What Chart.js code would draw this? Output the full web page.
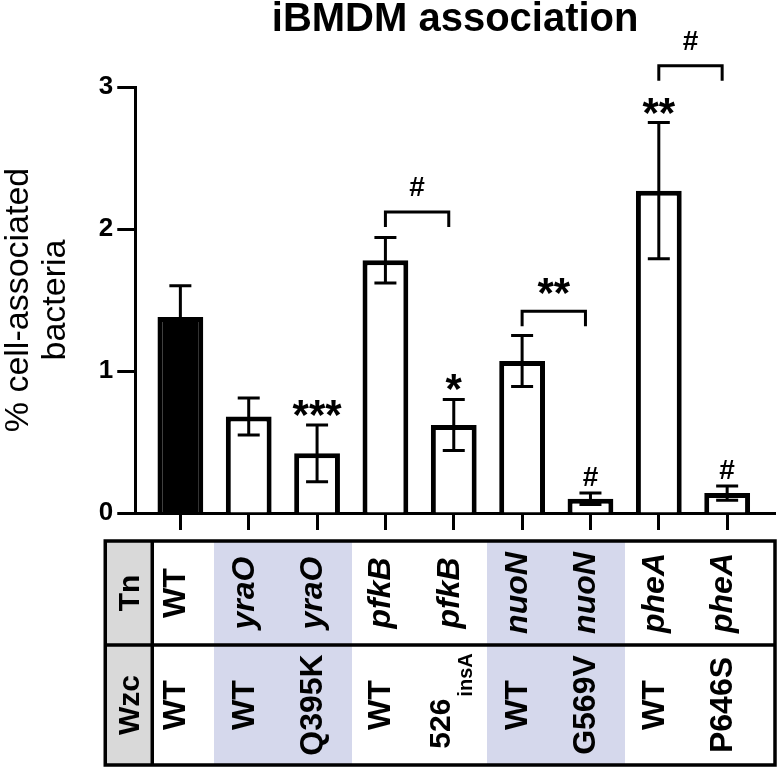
<!DOCTYPE html>
<html>
<head>
<meta charset="utf-8">
<script src="https://cdn.jsdelivr.net/npm/chart.js@4"></script>
<style>
  html, body { margin: 0; padding: 0; background: #fff; }
  #wrap { width: 779px; height: 768px; }
</style>
</head>
<body>
<div id="wrap"><canvas id="assocChart"></canvas></div>
<script>
// strains (Tn insertion / Wzc allele)
const strains = ['WT', 'yraO', 'yraO Q395K', 'pfkB', 'pfkB 526insA', 'nuoN', 'nuoN G569V', 'pheA', 'pheA P646S'];
const tnLabels = ['WT', 'yraO', 'yraO', 'pfkB', 'pfkB', 'nuoN', 'nuoN', 'pheA', 'pheA'];
const wzcLabels = ['WT', 'WT', 'Q395K', 'WT', '526', 'WT', 'G569V', 'WT', 'P646S'];
const wzcSubscripts = ['', '', '', '', 'insA', '', '', '', ''];

// % cell-associated bacteria, mean and error
const meanValues = [1.38, 0.68, 0.42, 1.78, 0.62, 1.07, 0.10, 2.27, 0.14];
const errValues = [0.22, 0.13, 0.20, 0.16, 0.18, 0.18, 0.04, 0.48, 0.05];
const yTicks = [0, 1, 2, 3];

// significance marks
const starLabels = ['', '', '***', '', '*', '', '#', '**', '#'];
const bracketFrom = [3, 5, 7];
const bracketTo = [4, 6, 8];
const bracketLevel = [2.12, 1.42, 3.15];
const bracketLabels = ['#', '**', '#'];

const shadedCols = [1, 2, 5, 6];

const FONT = '"Liberation Sans", Arial, Helvetica, sans-serif';

// draws text so its ink is centred on (x, y)
function inkText(ctx, text, x, y) {
  const m = ctx.measureText(text);
  ctx.textAlign = 'center';
  ctx.textBaseline = 'alphabetic';
  ctx.fillText(text, x, y + (m.actualBoundingBoxAscent - m.actualBoundingBoxDescent) / 2);
}

const extras = {
  id: 'extras',
  afterDatasetsDraw(chart) {
    const { ctx } = chart;
    const xs = chart.scales.x, ys = chart.scales.y;
    ctx.save();
    ctx.strokeStyle = '#000';
    ctx.fillStyle = '#000';
    ctx.lineWidth = 3;
    // error bars
    meanValues.forEach((v, i) => {
      const x = xs.getPixelForValue(i);
      const t = ys.getPixelForValue(v + errValues[i]);
      const b = ys.getPixelForValue(v - errValues[i]);
      ctx.beginPath();
      ctx.moveTo(x, t); ctx.lineTo(x, b);
      ctx.moveTo(x - 11, t); ctx.lineTo(x + 11, t);
      ctx.moveTo(x - 11, b); ctx.lineTo(x + 11, b);
      ctx.stroke();
    });
    // stars / hashes above bars
    starLabels.forEach((s, i) => {
      if (!s) return;
      const x = xs.getPixelForValue(i);
      const t = ys.getPixelForValue(meanValues[i] + errValues[i]);
      ctx.font = s === '#' ? 'bold 28px ' + FONT : 'bold 42px ' + FONT;
      inkText(ctx, s, x, t - 17);
    });
    // brackets
    bracketFrom.forEach((f, k) => {
      const x1 = xs.getPixelForValue(f);
      const x2 = xs.getPixelForValue(bracketTo[k]) - 5;
      const y = ys.getPixelForValue(bracketLevel[k]);
      ctx.beginPath();
      ctx.moveTo(x1, y + 15); ctx.lineTo(x1, y); ctx.lineTo(x2, y); ctx.lineTo(x2, y + 15);
      ctx.stroke();
      const s = bracketLabels[k];
      ctx.font = s === '#' ? 'bold 28px ' + FONT : 'bold 42px ' + FONT;
      inkText(ctx, s, (x1 + x2) / 2, y - 25);
    });
    ctx.restore();
  },
  afterDraw(chart) {
    const { ctx, chartArea } = chart;
    const xs = chart.scales.x;
    const top = chartArea.bottom + 28;
    const bottom = chart.height - 3;
    const left = chartArea.left - 30;
    const headRight = chartArea.left + 17;
    const right = chartArea.right;
    const mid = top + 104;
    ctx.save();
    // fills
    ctx.fillStyle = '#d9d9d9';
    ctx.fillRect(left, top, headRight - left, bottom - top);
    ctx.fillStyle = '#d5d8ec';
    shadedCols.forEach(i => {
      const a = Math.floor(xs.getPixelForValue(i - 0.5));
      const b = Math.ceil(xs.getPixelForValue(i + 0.5));
      ctx.fillRect(a, top, b - a, bottom - top);
    });
    // grid lines
    ctx.strokeStyle = '#000';
    ctx.lineWidth = 3.5;
    ctx.strokeRect(left, top, right - left, bottom - top);
    ctx.beginPath();
    ctx.moveTo(headRight, top); ctx.lineTo(headRight, bottom);
    ctx.moveTo(left, mid); ctx.lineTo(right, mid);
    ctx.stroke();
    // text, rotated to read bottom-to-top
    ctx.fillStyle = '#000';
    const rowTn = (top + mid) / 2, rowWzc = (mid + bottom) / 2;
    const vtext = (text, cx, cy, font, shift) => {
      ctx.save();
      ctx.translate(cx, cy);
      ctx.rotate(-Math.PI / 2);
      ctx.font = font;
      ctx.textAlign = 'center';
      ctx.textBaseline = 'alphabetic';
      ctx.fillText(text, 0, shift);
      ctx.restore();
    };
    vtext('Tn', (left + headRight) / 2, rowTn, 'bold 30px ' + FONT, 10);
    vtext('Wzc', (left + headRight) / 2, rowWzc, 'bold 30px ' + FONT, 10);
    tnLabels.forEach((t, i) => {
      const x = xs.getPixelForValue(i);
      const font = t === 'WT' ? 'bold 32px ' + FONT : 'italic bold 32px ' + FONT;
      vtext(t, x, rowTn, font, 5);
    });
    wzcLabels.forEach((t, i) => {
      const x = xs.getPixelForValue(i);
      const sub = wzcSubscripts[i];
      if (!sub) {
        vtext(t, x, rowWzc, 'bold 32px ' + FONT, 5);
        return;
      }
      ctx.save();
      ctx.translate(x, rowWzc - 4);
      ctx.rotate(-Math.PI / 2);
      ctx.textBaseline = 'alphabetic';
      ctx.textAlign = 'left';
      ctx.font = 'bold 30px ' + FONT;
      const w1 = ctx.measureText(t).width;
      ctx.font = 'bold 20px ' + FONT;
      const w2 = ctx.measureText(sub).width;
      const start = -(w1 + w2 + 2) / 2;
      ctx.font = 'bold 30px ' + FONT;
      ctx.fillText(t, start, -4);
      ctx.font = 'bold 20px ' + FONT;
      ctx.fillText(sub, start + w1 + 2, 18);
      ctx.restore();
    });
    ctx.restore();
  }
};

const ctx = document.getElementById('assocChart').getContext('2d');
new Chart(ctx, {
  type: 'bar',
  data: {
    datasets: [{
      data: meanValues.map((v, i) => ({ x: i, y: v })),
      backgroundColor: strains.map((s, i) => i === 0 ? '#000' : '#fff'),
      borderColor: '#000',
      borderWidth: 5,
      barPercentage: 0.67,
      categoryPercentage: 1
    }]
  },
  options: {
    responsive: true,
    maintainAspectRatio: false,
    animation: false,
    layout: { padding: { left: 0, right: 4, top: 0, bottom: 238 } },
    plugins: {
      legend: { display: false },
      tooltip: { enabled: false },
      title: {
        display: true,
        text: 'iBMDM association',
        fullSize: false,
        color: '#000',
        font: { family: FONT, size: 40, weight: 'bold', lineHeight: 1 },
        padding: { top: 0, bottom: 47 }
      }
    },
    scales: {
      x: {
        type: 'linear',
        offset: false,
        min: -0.66,
        max: 8.7,
        afterBuildTicks: s => { s.ticks = strains.map((_, i) => ({ value: i })); },
        ticks: { display: false },
        grid: { offset: false, drawOnChartArea: false, drawTicks: true, tickLength: 17, tickWidth: 3, tickColor: '#000' },
        border: { display: true, width: 3, color: '#000' }
      },
      y: {
        min: 0,
        max: 3,
        afterBuildTicks: s => { s.ticks = yTicks.map(v => ({ value: v })); },
        ticks: { color: '#000', font: { family: FONT, size: 26, weight: 'bold' }, padding: 4 },
        grid: { drawOnChartArea: false, tickLength: 18, tickWidth: 3, tickColor: '#000' },
        border: { width: 3, color: '#000' },
        title: {
          display: true,
          text: ['% cell-associated', 'bacteria'],
          color: '#000',
          font: { family: FONT, size: 34, lineHeight: 1.1 },
          padding: { top: 0, bottom: 20 }
        }
      }
    }
  },
  plugins: [extras]
});
</script>
</body>
</html>
